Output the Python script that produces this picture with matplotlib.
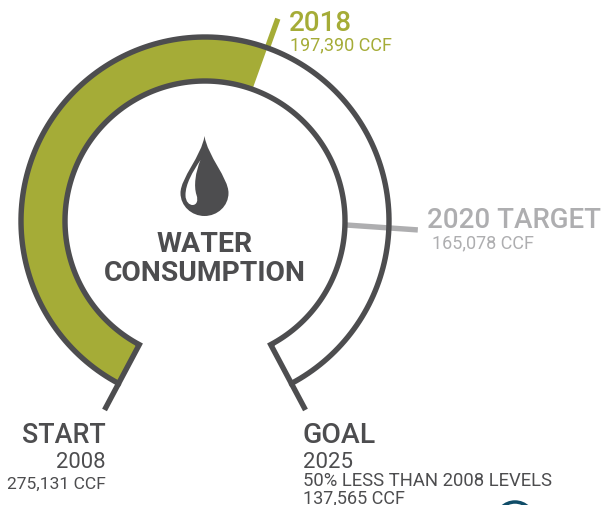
import numpy as np
import matplotlib
matplotlib.use("Agg")
import matplotlib.pyplot as plt
from matplotlib.patches import Polygon, PathPatch, Circle
from matplotlib.path import Path

plt.rcParams['font.family'] = ['Roboto', 'DejaVu Sans']

# Data
start_value = 275131
goal_value = 137565
current_value = 197390
target_value = 165078
start_label = ["START", "2008", "275,131 CCF"]
goal_label = ["GOAL", "2025", "50% LESS THAN 2008 LEVELS", "137,565 CCF"]
current_label = ["2018", "197,390 CCF"]
target_label = ["2020 TARGET", "165,078 CCF"]
title_lines = ["WATER", "CONSUMPTION"]

DARK = "#4d4d4f"
OLIVE = "#a5ac37"
GREY = "#aeaeb0"
TEAL = "#0f4c68"

W, H = 604, 506
fig = plt.figure(figsize=(W / 100, H / 100), dpi=100)
ax = fig.add_axes([0, 0, 1, 1])
ax.set_xlim(0, W)
ax.set_ylim(H, 0)
ax.axis("off")

cx, cy = 205, 222
r_out, r_in = 184, 140
b0, b1 = 208.0, 512.0   # bearings of gauge start / goal


def bearing(v):
    return b0 + (start_value - v) / (start_value - goal_value) * (b1 - b0)


def pt(b, r):
    t = np.radians(b)
    return cx + r * np.sin(t), cy - r * np.cos(t)


def arc(b_a, b_b, r):
    t = np.radians(np.linspace(b_a, b_b, 200))
    return np.column_stack([cx + r * np.sin(t), cy - r * np.cos(t)])


# Filled progress band
b_cur = bearing(current_value)
ax.add_patch(Polygon(np.vstack([arc(b0, b_cur, r_out), arc(b_cur, b0, r_in)]),
                     closed=True, fc=OLIVE, ec="none", zorder=1))

# Outline of gauge
lw = 3.9
ol = np.vstack([arc(b0, b1, r_out), arc(b1, b0, r_in)])
ax.add_patch(Polygon(ol, closed=True, fc="none", ec=DARK, lw=lw, joinstyle="miter", zorder=3))

# Tick lines (tilt_in / tilt_out: small drawn skew of the line ends, degrees)
for v, ra, rb, col, w, z, tilt_in, tilt_out in [
    (start_value, r_out - 1, r_out + 30, DARK, lw, 3, 0, 0),
    (goal_value, r_out - 1, r_out + 30, DARK, lw, 3, 0, 0),
    (current_value, r_out - 2, r_out + 31, OLIVE, lw, 2, 0, 0),
    (target_value, r_in, r_out + 29, GREY, lw, 2, 0.4, 1.2),
]:
    b = bearing(v)
    xa, ya = pt(b + tilt_in, ra)
    xb, yb = pt(b + tilt_out, rb)
    ax.plot([xa, xb], [ya, yb], color=col, lw=w, solid_capstyle="butt", zorder=z)

# Droplet icon
dx, dy = 204.5, 193
drop = Path(
    [(dx, dy - 56), (dx + 3, dy - 36), (dx + 24, dy - 14), (dx + 24, dy + 1),
     (dx + 24, dy + 14), (dx + 13, dy + 24), (dx, dy + 24),
     (dx - 13, dy + 24), (dx - 24, dy + 14), (dx - 24, dy + 1),
     (dx - 24, dy - 14), (dx - 3, dy - 36), (dx, dy - 56)],
    [Path.MOVETO, Path.CURVE4, Path.CURVE4, Path.CURVE4, Path.CURVE4, Path.CURVE4, Path.CURVE4,
     Path.CURVE4, Path.CURVE4, Path.CURVE4, Path.CURVE4, Path.CURVE4, Path.CURVE4])
ax.add_patch(PathPatch(drop, fc=DARK, ec="none", zorder=2))
shine = Path(
    [(dx - 4, dy - 32), (dx - 12, dy - 20), (dx - 19, dy - 8), (dx - 19, dy + 3),
     (dx - 19, dy + 10), (dx - 15, dy + 13), (dx - 12, dy + 13),
     (dx - 8, dy + 13), (dx - 6, dy + 9), (dx - 8, dy + 3),
     (dx - 11, dy - 6), (dx - 9, dy - 20), (dx - 4, dy - 32)],
    [Path.MOVETO, Path.CURVE4, Path.CURVE4, Path.CURVE4, Path.CURVE4, Path.CURVE4, Path.CURVE4,
     Path.CURVE4, Path.CURVE4, Path.CURVE4, Path.CURVE4, Path.CURVE4, Path.CURVE4])
ax.add_patch(PathPatch(shine, fc="white", ec="none", zorder=3))


def txt(x, y, s, size, color, ha="left", weight="normal"):
    return ax.text(x, y, s, fontsize=size, color=color, ha=ha, va="baseline", fontweight=weight)


# Centre title
txt(204.5, 252, title_lines[0], 20.5, DARK, ha="center", weight="bold")
txt(204.5, 281, title_lines[1], 20.3, DARK, ha="center", weight="bold")

# Labels
txt(106, 443, start_label[0], 19.4, DARK, ha="right", weight="medium")
txt(106, 468, start_label[1], 15.8, DARK, ha="right")
txt(106, 489, start_label[2], 12.6, DARK, ha="right")

txt(303, 443, goal_label[0], 20.4, DARK, weight="medium")
txt(303, 468, goal_label[1], 16, DARK)
txt(303, 486, goal_label[2], 13.3, DARK)
txt(303, 503.5, goal_label[3], 13, DARK)

txt(289, 31, current_label[0], 20, OLIVE, weight="medium")
txt(290, 50, current_label[1], 13, OLIVE)

txt(427, 228.5, target_label[0], 20, GREY, weight="medium")
txt(432, 248.5, target_label[1], 13, GREY)

# Partial logo mark cut off by the bottom edge
ax.add_patch(Circle((515, 522), 19, fc="none", ec=TEAL, lw=2.5, zorder=2))

fig.savefig("out.png", dpi=100)
